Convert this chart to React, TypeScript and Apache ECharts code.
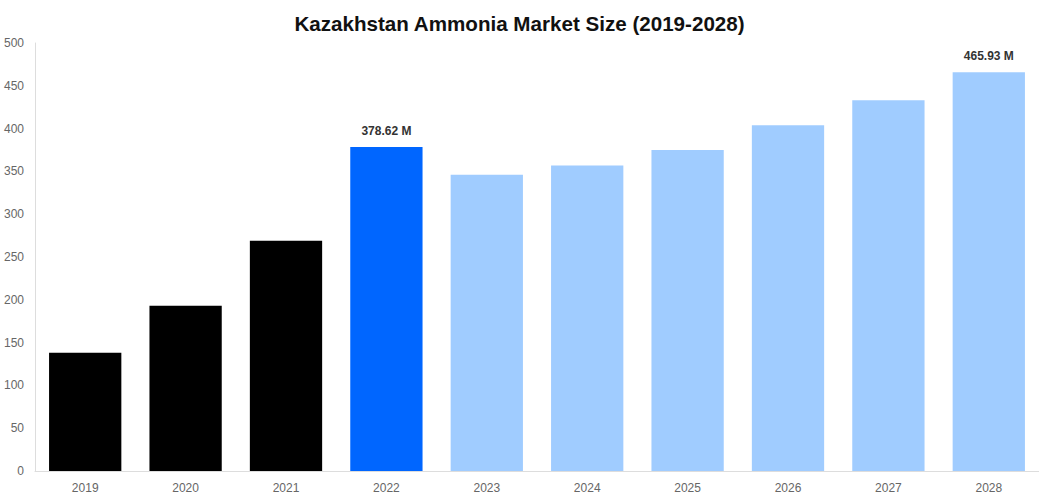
import React, { useEffect, useRef } from "react";
import * as echarts from "echarts";

const categories = ["2019", "2020", "2021", "2022", "2023", "2024", "2025", "2026", "2027", "2028"];
const values = [138, 193, 269, 378.62, 346, 357, 375, 404, 433, 465.93];
const barColors = ["#000000", "#000000", "#000000", "#0066ff", "#a0ccff", "#a0ccff", "#a0ccff", "#a0ccff", "#a0ccff", "#a0ccff"];
const labeledIndices = [3, 9];
const titleText = "Kazakhstan Ammonia Market Size (2019-2028)";

export default function App() {
  const ref = useRef<HTMLDivElement>(null);
  useEffect(() => {
    if (!ref.current) return;
    const chart = echarts.init(ref.current, null, { renderer: "svg" });
    chart.setOption({
      animation: false,
      backgroundColor: "#ffffff",
      title: {
        text: titleText,
        left: "center",
        top: 8,
        textStyle: { fontFamily: "Liberation Sans, Arial, sans-serif", fontSize: 20.6, fontWeight: "bold", color: "#111111" },
      },
      grid: { left: 35, right: 0, top: 43, bottom: 29, containLabel: false },
      xAxis: {
        type: "category",
        data: categories,
        axisLine: { show: true, lineStyle: { color: "#dddddd" } },
        axisTick: { show: false },
        axisLabel: { color: "#666666", fontSize: 12, margin: 11, fontFamily: "Liberation Sans, Arial, sans-serif" },
      },
      yAxis: {
        type: "value",
        min: 0,
        max: 500,
        interval: 50,
        axisLine: { show: true, lineStyle: { color: "#dddddd" } },
        axisTick: { show: false },
        splitLine: { show: false },
        axisLabel: { color: "#666666", fontSize: 12, margin: 11, fontFamily: "Liberation Sans, Arial, sans-serif" },
      },
      series: [
        {
          type: "bar",
          barCategoryGap: "28%",
          data: values.map((v, i) => ({
            value: v,
            itemStyle: { color: barColors[i] },
            label: {
              show: labeledIndices.includes(i),
              position: "top",
              distance: 10,
              formatter: (p: any) => `${Number(p.value).toFixed(2)} M`,
              fontFamily: "Liberation Sans, Arial, sans-serif",
              fontSize: 12,
              fontWeight: "bold",
              color: "#333333",
            },
          })),
        },
      ],
    });
    return () => chart.dispose();
  }, []);
  return <div ref={ref} style={{ position: "fixed", left: 0, top: 0, width: 1039, height: 500 }} />;
}
